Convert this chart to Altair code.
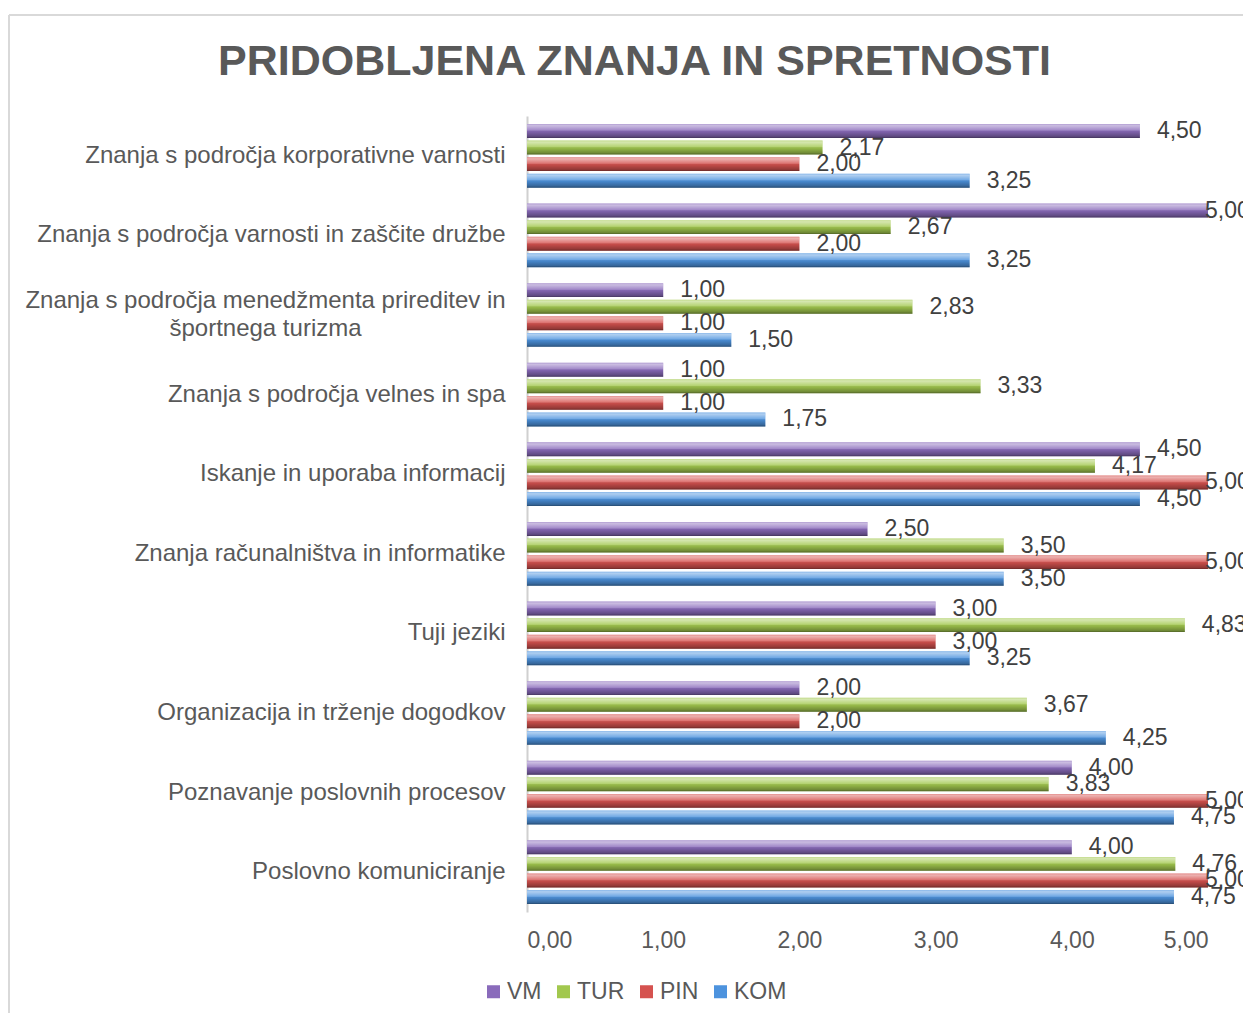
import altair as alt
import pandas as pd

categories = [
    "Znanja s področja korporativne varnosti",
    "Znanja s področja varnosti in zaščite družbe",
    "Znanja s področja menedžmenta prireditev in|športnega turizma",
    "Znanja s področja velnes in spa",
    "Iskanje in uporaba informacij",
    "Znanja računalništva in informatike",
    "Tuji jeziki",
    "Organizacija in trženje dogodkov",
    "Poznavanje poslovnih procesov",
    "Poslovno komuniciranje",
]
series_order = ["VM", "TUR", "PIN", "KOM"]
vm = [4.50, 5.00, 1.00, 1.00, 4.50, 2.50, 3.00, 2.00, 4.00, 4.00]
tur = [2.17, 2.67, 2.83, 3.33, 4.17, 3.50, 4.83, 3.67, 3.83, 4.76]
pin = [2.00, 2.00, 1.00, 1.00, 5.00, 5.00, 3.00, 2.00, 5.00, 5.00]
kom = [3.25, 3.25, 1.50, 1.75, 4.50, 3.50, 3.25, 4.25, 4.75, 4.75]
colors = ["#8a6bbb", "#a2c84e", "#d5524f", "#4d93de"]
x_ticks = [0, 1, 2, 3, 4, 5]

rows = []
for name, vals in zip(series_order, [vm, tur, pin, kom]):
    for c, v in zip(categories, vals):
        rows.append({"category": c, "series": name, "value": v})
df = pd.DataFrame(rows)

FONT = "Liberation Sans, Arial, sans-serif"
MULTI = "indexof(datum.value, '|') >= 0"

x_enc = alt.X(
    "value:Q",
    scale=alt.Scale(domain=[0, 5], nice=False, zero=True),
    axis=alt.Axis(
        values=x_ticks,
        labelExpr="replace(format(datum.value, '.2f'), '.', ',')",
        grid=False, domain=False, ticks=False, title=None,
        labelFontSize=23, labelColor="#595959", labelFont=FONT, labelPadding=17,
    ),
)
y_enc = alt.Y(
    "category:N",
    sort=categories,
    scale=alt.Scale(paddingInner=0.2, paddingOuter=0.1),
    axis=alt.Axis(
        title=None, ticks=False, tickSize=0,
        domainColor="#d0d0d0", domainWidth=2,
        labelExpr="split(datum.label, '|')",
        labelAlign={"condition": {"test": MULTI, "value": "center"}, "value": "right"},
        labelPadding={"condition": {"test": MULTI, "value": 262}, "value": 22},
        labelOffset={"condition": {"test": MULTI, "value": -14}, "value": 0},
        labelFontSize=24, labelColor="#595959", labelFont=FONT, labelLimit=700,
        labelLineHeight=28,
    ),
)
yoff_enc = alt.YOffset("series:N", sort=series_order,
                       scale=alt.Scale(paddingInner=0.16, paddingOuter=0))

base = alt.Chart(df).transform_calculate(
    lbl="replace(format(datum.value, '.2f'), '.', ',')"
)

bars = base.mark_bar().encode(
    x=x_enc, y=y_enc, yOffset=yoff_enc,
    color=alt.Color(
        "series:N",
        scale=alt.Scale(domain=series_order, range=colors),
        legend=alt.Legend(
            title=None, orient="none", direction="horizontal",
            legendX=-45, legendY=864,
            symbolType="square", symbolSize=169, symbolStrokeWidth=0,
            labelFontSize=23, labelColor="#595959", labelFont=FONT,
            labelOffset=2, columnPadding=10, padding=0,
        ),
    ),
)

shine_grad = alt.LinearGradient(
    gradient="linear", x1=0, y1=0, x2=0, y2=1,
    stops=[
        alt.GradientStop(color="rgba(255,255,255,0.35)", offset=0),
        alt.GradientStop(color="rgba(255,255,255,0.55)", offset=0.12),
        alt.GradientStop(color="rgba(255,255,255,0.20)", offset=0.45),
        alt.GradientStop(color="rgba(0,0,0,0.08)", offset=0.55),
        alt.GradientStop(color="rgba(0,0,0,0.30)", offset=0.88),
        alt.GradientStop(color="rgba(0,0,0,0.50)", offset=1),
    ],
)
shine = base.mark_bar(color=shine_grad).encode(x=x_enc, y=y_enc, yOffset=yoff_enc)

labels = base.transform_filter("datum.value < 5").mark_text(
    align="left", baseline="middle", dx=17, fontSize=23, color="#404040", font=FONT
).encode(x=x_enc, y=y_enc, yOffset=yoff_enc, text="lbl:N")

labels_max = base.transform_filter("datum.value >= 5").mark_text(
    align="left", baseline="middle", dx=-3, fontSize=23, color="#404040", font=FONT
).encode(x=x_enc, y=y_enc, yOffset=yoff_enc, text="lbl:N")

one = pd.DataFrame({"a": [0]})
border_left = alt.Chart(one).mark_rule(color="#d9d9d9", strokeWidth=2).encode(
    x=alt.value(-518), y=alt.value(-101), y2=alt.value(2000)
)
border_top = alt.Chart(one).mark_rule(color="#d9d9d9", strokeWidth=2).encode(
    x=alt.value(-518), x2=alt.value(2000), y=alt.value(-101)
)

chart = alt.layer(border_left, border_top, bars, shine, labels, labels_max).properties(
    width=681,
    height=796,
    background="white",
    autosize=alt.AutoSizeParams(type="none"),
    padding={"left": 519, "top": 108, "right": 35, "bottom": 101},
    title=alt.TitleParams(
        text="PRIDOBLJENA ZNANJA IN SPRETNOSTI",
        fontSize=43, fontWeight="bold", color="#595959", font=FONT,
        anchor="middle", frame="group", dx=-233, offset=-104, baseline="alphabetic",
    ),
).configure_view(stroke="transparent", strokeWidth=0)

chart.save("out.html", embed_options={"renderer": "svg", "actions": False})
